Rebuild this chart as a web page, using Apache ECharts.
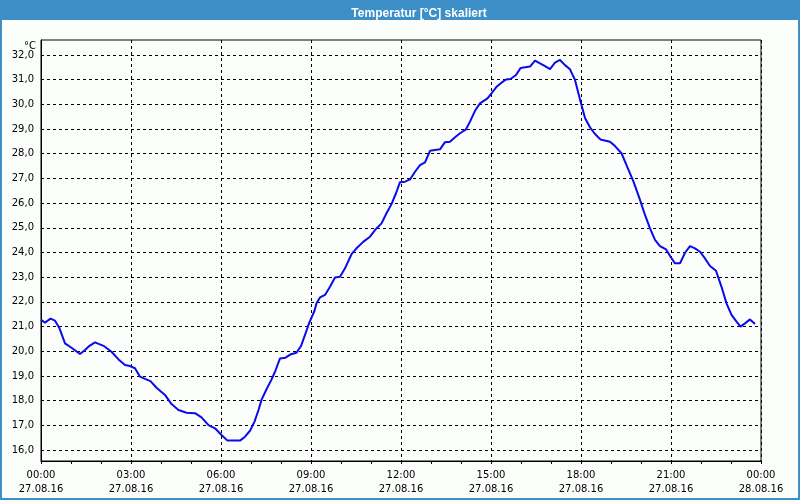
<!DOCTYPE html>
<html>
<head>
<meta charset="utf-8">
<script src="https://cdn.jsdelivr.net/npm/echarts@6/dist/echarts.min.js"></script>
<style>
  html, body { margin: 0; padding: 0; background: #fcfefc; }
  #chart { width: 800px; height: 500px; }
</style>
</head>
<body>
<div id="chart"></div>
<script>
// Messzeitpunkte in Minuten ab 27.08.16 00:00
const minutes = [
  0, 8, 19, 28, 37, 48, 61, 78, 88, 97, 108, 125, 141, 155, 168, 178, 188, 198, 208, 219,
  231, 248, 261, 275, 291, 308, 321, 335, 348, 361, 373, 398, 408, 418, 427, 435, 441, 451, 460, 468,
  478, 489, 500, 511, 520, 528, 536, 547, 551, 558, 568, 578, 588, 598, 608, 621, 631, 645, 658, 668,
  681, 691, 701, 710, 718, 728, 738, 748, 758, 768, 778, 798, 808, 818, 828, 838, 850, 858, 868, 878,
  893, 901, 911, 921, 930, 939, 950, 959, 978, 988, 998, 1008, 1018, 1028, 1038, 1048, 1058, 1068, 1078, 1088,
  1098, 1108, 1119, 1138, 1148, 1161, 1171, 1185, 1198, 1208, 1218, 1228, 1238, 1250, 1259, 1268, 1278, 1288, 1298, 1308,
  1318, 1328, 1338, 1350, 1361, 1371, 1381, 1391, 1399, 1408, 1418, 1428
];
// Temperatur in °C
const temps = [
  21.27, 21.16, 21.32, 21.24, 20.93, 20.32, 20.14, 19.89, 20.05, 20.22, 20.36, 20.22, 19.98, 19.67, 19.44, 19.40, 19.31, 18.97, 18.88, 18.79,
  18.52, 18.23, 17.86, 17.62, 17.51, 17.49, 17.32, 17.01, 16.88, 16.61, 16.38, 16.38, 16.54, 16.78, 17.15, 17.62, 18.03, 18.46, 18.81, 19.17,
  19.71, 19.74, 19.88, 19.94, 20.21, 20.66, 21.13, 21.64, 21.94, 22.18, 22.28, 22.61, 22.99, 23.02, 23.36, 23.93, 24.17, 24.44, 24.64, 24.91,
  25.18, 25.59, 25.96, 26.40, 26.85, 26.87, 26.96, 27.27, 27.54, 27.65, 28.12, 28.18, 28.47, 28.49, 28.67, 28.83, 28.99, 29.30, 29.74, 30.04,
  30.24, 30.45, 30.71, 30.88, 31.01, 31.03, 31.19, 31.47, 31.53, 31.77, 31.66, 31.55, 31.43, 31.69, 31.80, 31.59, 31.42, 30.99, 30.20, 29.45,
  29.07, 28.80, 28.58, 28.49, 28.31, 28.02, 27.54, 26.87, 26.13, 25.52, 24.98, 24.51, 24.26, 24.13, 23.83, 23.56, 23.56, 23.99, 24.26, 24.17,
  24.03, 23.76, 23.45, 23.26, 22.61, 21.94, 21.47, 21.20, 21.00, 21.13, 21.29, 21.10
];
const yTicks = [16, 17, 18, 19, 20, 21, 22, 23, 24, 25, 26, 27, 28, 29, 30, 31, 32];
const xTickTimes = ['00:00', '03:00', '06:00', '09:00', '12:00', '15:00', '18:00', '21:00', '00:00'];
const xTickDates = ['27.08.16', '27.08.16', '27.08.16', '27.08.16', '27.08.16', '27.08.16', '27.08.16', '27.08.16', '28.08.16'];

const font = 'DejaVu Sans';
const chart = echarts.init(document.getElementById('chart'));

chart.setOption({
  backgroundColor: '#fcfefc',
  animation: false,
  title: {
    text: 'Temperatur [°C] skaliert',
    left: 414,
    textAlign: 'center',
    top: 3,
    textStyle: { color: '#fff', fontFamily: 'Liberation Sans', fontWeight: 'bold', fontSize: 12 }
  },
  graphic: [
    { type: 'rect', z: -1, shape: { x: 0, y: 0, width: 800, height: 20 }, style: { fill: '#3d8fc7' } },
    { type: 'rect', z: -1, shape: { x: 1, y: 1, width: 798, height: 498 }, style: { fill: 'none', stroke: '#3d8fc7', lineWidth: 2 } },
    { type: 'text', x: 36, y: 46, style: { text: '°C', align: 'right', verticalAlign: 'middle', fill: '#000', font: '10px "DejaVu Sans"' } }
  ],
  grid: {
    left: 41, right: 39, top: 40, bottom: 39,
    show: true, borderColor: '#000', borderWidth: 1, backgroundColor: 'transparent'
  },
  xAxis: {
    type: 'value',
    min: 0, max: 1440, interval: 180,
    axisLine: { lineStyle: { color: '#000', width: 1 } },
    axisTick: { show: true, length: 3, lineStyle: { color: '#000' } },
    minorTick: { show: true, splitNumber: 3, length: 3, lineStyle: { color: '#000' } },
    splitLine: { show: true, lineStyle: { color: '#000', type: [3, 3], width: 1 } },
    axisLabel: {
      color: '#000', fontFamily: font, fontSize: 10, lineHeight: 14, margin: 7,
      formatter: v => { const i = Math.round(v / 180); return xTickTimes[i] + '\n' + xTickDates[i]; }
    }
  },
  yAxis: {
    type: 'value',
    min: 15.5544, max: 32.6076,
    axisLine: { show: true, lineStyle: { color: '#000', width: 1 } },
    axisTick: { show: false, customValues: yTicks },
    splitLine: { show: true, lineStyle: { color: '#000', type: [3, 3], width: 1 } },
    axisLabel: {
      color: '#000', fontFamily: font, fontSize: 10, margin: 7,
      customValues: yTicks,
      formatter: v => v.toFixed(1).replace('.', ',')
    }
  },
  series: [{
    type: 'line',
    data: minutes.map((m, i) => [m, temps[i]]),
    showSymbol: false,
    lineStyle: { color: '#0a0aeb', width: 2 },
    itemStyle: { color: '#0a0aeb' }
  }]
});
</script>
</body>
</html>
